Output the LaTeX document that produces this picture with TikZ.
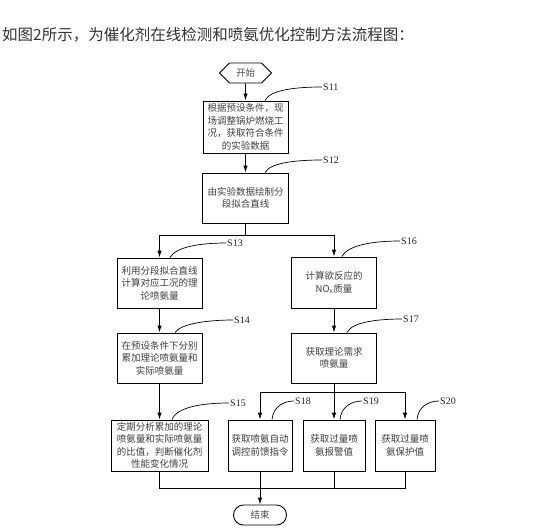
\documentclass[tikz,border=0pt]{standalone}
\usepackage{fontspec}
\newfontfamily\cjk{Noto Sans CJK SC}
\newfontfamily\lbl{Liberation Serif}
\usetikzlibrary{shapes.symbols,arrows.meta,calc}
\tikzset{
  box/.style={draw, line width=0.9pt, inner sep=1pt, align=center,
    font=\cjk\fontsize{9.5}{12.5}\selectfont, text=black!75},
  term/.style={draw, line width=0.9pt, inner sep=1pt,
    font=\cjk\fontsize{9.5}{12}\selectfont, text=black!70},
  arr/.style={-{Latex[length=7pt,width=4.5pt]}, line width=0.9pt},
  ln/.style={line width=0.9pt},
  tag/.style={font=\lbl\fontsize{10}{12}\selectfont, anchor=west, inner sep=1pt, text=black!85},
  tagline/.style={line width=0.7pt}
}
\begin{document}
\begin{tikzpicture}[x=1pt,y=-1pt]
\useasboundingbox[fill=white] (0,0) rectangle (534,530);
% title
\node[anchor=west, inner sep=0pt, font=\cjk\fontsize{15.5}{18}\selectfont, text=black!80] (title) at (2,35) {如图2所示，为催化剂在线检测和喷氨优化控制方法流程图：};
% terminals
\node[term, signal, signal to=west and east, minimum width=52pt, minimum height=20pt] (start) at (245.5,73) {开始};
\node[term, rounded corners=10pt, minimum width=53pt, minimum height=20pt] (stop) at (260,515) {结束};
% boxes
\node[box, minimum width=85pt, minimum height=52pt] (s11) at (245.5,127) {根据预设条件，现\\场调整锅炉燃烧工\\况，获取符合条件\\的实验数据};
\node[box, minimum width=86pt, minimum height=50pt] (s12) at (245.5,198) {由实验数据绘制分\\段拟合直线};
\node[box, minimum width=85pt, minimum height=50pt] (s13) at (159.5,283) {利用分段拟合直线\\计算对应工况的理\\论喷氨量};
\node[box, minimum width=85pt, minimum height=50pt] (s14) at (159.5,358) {在预设条件下分别\\累加理论喷氨量和\\实际喷氨量};
\node[box, minimum width=97pt, minimum height=51pt] (s15) at (159.5,445.5) {定期分析累加的理论\\喷氨量和实际喷氨量\\的比值，判断催化剂\\性能变化情况};
\node[box, minimum width=85pt, minimum height=51pt] (s16) at (334,282.5) {计算欲反应的\\NO\textsubscript{x}质量};
\node[box, minimum width=85pt, minimum height=50pt] (s17) at (334,358) {获取理论需求\\喷氨量};
\node[box, minimum width=64pt, minimum height=51pt] (s18) at (260,445.5) {获取喷氨自动\\调控前馈指令};
\node[box, minimum width=62pt, minimum height=51pt] (s19) at (334,445.5) {获取过量喷\\氨报警值};
\node[box, minimum width=60pt, minimum height=51pt] (s20) at (405,445.5) {获取过量喷\\氨保护值};
% junctions
\coordinate (j0) at (245.5,235);
\coordinate (j1) at (334,392);
\coordinate (j2) at (260,488);
% connectors
\draw[arr] (start) -- (s11);
\draw[arr] (s11) -- (s12);
\draw[ln] (s12.south) -- (j0);
\draw[arr] (j0) -| (s13.north);
\draw[arr] (j0) -| (s16.north);
\draw[arr] (s13) -- (s14);
\draw[arr] (s16) -- (s17);
\draw[arr] (s14) -- (s15);
\draw[ln] (s17.south) -- (j1);
\draw[arr] (j1) -| (s18.north);
\draw[arr] (j1) -- (s19.north);
\draw[arr] (j1) -| (s20.north);
\draw[ln] (s15.south) |- (j2);
\draw[ln] (s20.south) |- (j2);
\draw[ln] (s18.south) -- (j2);
\draw[ln] (s19.south) -- (s19.south |- j2);
\draw[arr] (j2) -- (stop.north);
% step tags
\node[tag] (l11) at (322,87) {S11};
\node[tag] (l12) at (322,160) {S12};
\node[tag] (l13) at (226,243) {S13};
\node[tag] (l14) at (233,320) {S14};
\node[tag] (l15) at (229,403) {S15};
\node[tag] (l16) at (400,241) {S16};
\node[tag] (l17) at (402,319) {S17};
\node[tag] (l18) at (294,401) {S18};
\node[tag] (l19) at (362,401) {S19};
\node[tag] (l20) at (439,401) {S20};
\draw[tagline] ([xshift=19.5pt]s11.north) .. controls +(5,-11) and +(-25,0) .. (l11.west);
\draw[tagline] ([xshift=19.5pt]s12.north) .. controls +(5,-10) and +(-25,0) .. (l12.west);
\draw[tagline] ([xshift=10.5pt]s13.north) .. controls +(6,-11) and +(-25,0) .. (l13.west);
\draw[tagline] ([xshift=15.5pt]s14.north) .. controls +(6,-9) and +(-25,0) .. (l14.west);
\draw[tagline] ([xshift=12.5pt]s15.north) .. controls +(5,-13) and +(-25,0) .. (l15.west);
\draw[tagline] ([xshift=8pt]s16.north) .. controls +(6,-12) and +(-25,0) .. (l16.west);
\draw[tagline] ([xshift=13pt]s17.north) .. controls +(5,-11) and +(-22,0) .. (l17.west);
\draw[tagline] ([xshift=12pt]s18.north) .. controls +(1,-13) and +(-10,0) .. (l18.west);
\draw[tagline] ([xshift=6pt]s19.north) .. controls +(1,-13) and +(-10,0) .. (l19.west);
\draw[tagline] ([xshift=12pt]s20.north) .. controls +(1,-13) and +(-10,0) .. (l20.west);
\end{tikzpicture}
\end{document}
